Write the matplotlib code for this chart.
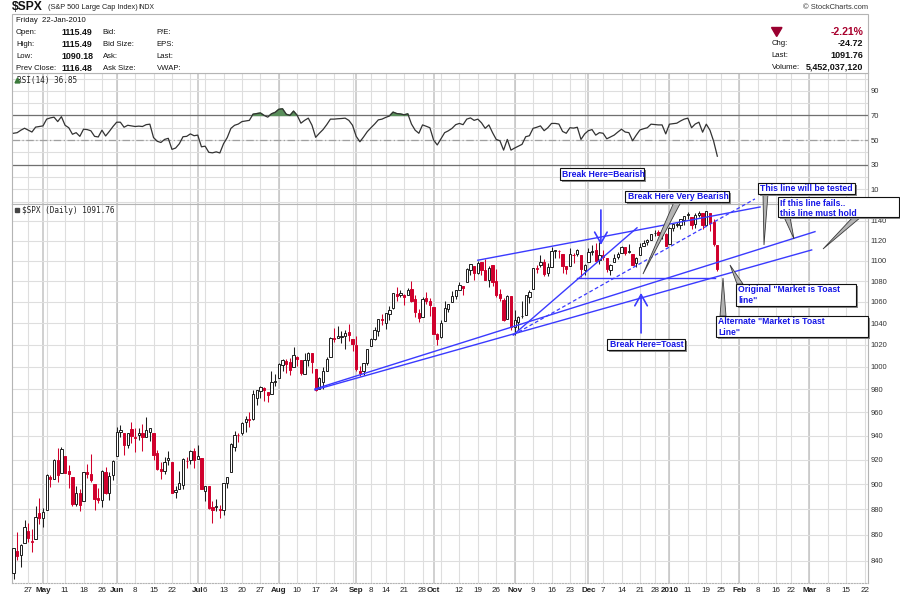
import numpy as np
import pandas as pd
import matplotlib
matplotlib.use("Agg")
import matplotlib.pyplot as plt
from matplotlib.patches import Rectangle, Polygon

# ---- data: S&P 500 daily, 21-Apr-2009 .. 22-Jan-2010 ----
first_day = "2009-04-21"
last_axis_day = "2010-03-26"
holidays = ["2009-05-25", "2009-07-03", "2009-09-07", "2009-11-26",
            "2009-12-25", "2010-01-01", "2010-01-18", "2010-02-15"]

opens = [831.3, 847.3, 844.6, 853.9, 862.8, 854.5, 856.9, 876.6, 872.7, 879.2,
         906.1, 903.8, 919.6, 909.0, 922.9, 910.5, 905.4, 884.2, 892.8, 886.1,
         909.7, 908.6, 900.4, 888.7, 887.0, 909.9, 892.9, 907.0, 923.3, 942.9,
         942.5, 932.5, 945.7, 938.1, 940.4, 942.7, 939.0, 943.4, 942.5, 925.6,
         911.9, 910.9, 920.0, 918.1, 893.5, 896.3, 899.5, 918.8, 919.9, 927.2,
         920.8, 921.2, 894.3, 898.6, 881.9, 881.3, 880.0, 879.6, 900.8, 910.2,
         930.2, 940.6, 942.1, 952.0, 953.4, 954.1, 972.2, 978.6, 981.5, 977.7,
         976.0, 986.8, 990.2, 1001.4, 1005.4, 1004.1, 999.8, 1008.9, 1005.8, 994.0,
         1005.9, 1012.2, 998.2, 980.6, 986.9, 996.4, 1009.1, 1026.6, 1026.6, 1027.4,
         1027.8, 1031.6, 1025.2, 1019.5, 996.1, 996.1, 1003.8, 1018.7, 1025.4, 1033.0,
         1043.9, 1040.2, 1049.0, 1054.0, 1067.9, 1066.6, 1067.1, 1066.4, 1072.7, 1062.6,
         1049.5, 1045.4, 1063.7, 1061.0, 1054.9, 1029.7, 1026.9, 1042.0, 1053.7, 1060.0,
         1065.3, 1071.6, 1075.0, 1078.7, 1090.4, 1094.7, 1088.2, 1098.6, 1090.4, 1081.0,
         1095.6, 1080.4, 1067.5, 1061.5, 1043.7, 1065.4, 1036.2, 1040.9, 1047.1, 1047.3,
         1065.0, 1072.3, 1091.9, 1096.0, 1098.3, 1087.6, 1094.1, 1109.2, 1109.4, 1106.4,
         1094.7, 1094.9, 1105.8, 1106.5, 1105.5, 1091.1, 1098.9, 1109.0, 1110.6, 1100.4,
         1105.5, 1103.0, 1091.1, 1098.7, 1104.0, 1107.8, 1114.1, 1108.6, 1106.4, 1097.9,
         1105.3, 1114.5, 1118.8, 1121.1, 1127.5, 1128.6, 1125.5, 1126.6, 1116.6, 1133.0,
         1135.7, 1136.3, 1140.5, 1146.0, 1143.8, 1137.3, 1145.7, 1147.7, 1136.0, 1148.0,
         1138.7, 1115.5]
highs = [850.1, 861.8, 852.9, 871.8, 868.8, 864.5, 882.1, 888.7, 880.5, 907.9,
         907.7, 920.3, 929.6, 930.2, 922.9, 915.6, 905.4, 898.4, 896.1, 910.0,
         916.4, 924.6, 900.4, 896.7, 911.8, 913.8, 909.5, 920.0, 947.8, 949.4,
         942.5, 942.5, 951.7, 946.3, 946.9, 949.8, 956.2, 946.3, 942.5, 928.0,
         918.4, 921.9, 927.1, 918.1, 898.7, 910.9, 921.4, 922.0, 928.0, 930.0,
         931.9, 921.2, 898.7, 898.6, 886.8, 887.9, 883.6, 901.1, 905.8, 933.9,
         944.0, 941.9, 951.6, 956.5, 959.8, 979.4, 979.8, 982.5, 982.4, 977.8,
         996.7, 993.2, 1003.6, 1007.1, 1006.6, 1008.0, 1018.0, 1010.1, 1005.8, 1012.8,
         1013.1, 1012.6, 998.2, 991.2, 999.6, 1008.9, 1027.6, 1035.8, 1037.8, 1032.5,
         1033.3, 1039.5, 1025.2, 1028.5, 1000.3, 1003.4, 1016.5, 1026.1, 1036.3, 1044.1,
         1048.2, 1049.7, 1056.0, 1068.8, 1074.8, 1071.5, 1067.3, 1073.8, 1080.2, 1066.3,
         1053.5, 1065.1, 1069.6, 1063.4, 1054.9, 1030.6, 1042.6, 1060.6, 1058.0, 1070.7,
         1071.5, 1079.5, 1075.3, 1093.2, 1096.6, 1094.7, 1100.2, 1098.6, 1101.4, 1095.2,
         1095.8, 1091.7, 1072.5, 1063.3, 1066.8, 1065.4, 1052.2, 1046.4, 1061.0, 1066.7,
         1071.5, 1093.2, 1096.1, 1105.4, 1101.9, 1097.8, 1113.7, 1110.3, 1111.1, 1106.4,
         1094.7, 1112.4, 1107.6, 1111.2, 1105.5, 1097.2, 1112.3, 1115.6, 1117.3, 1119.1,
         1110.7, 1103.0, 1097.0, 1106.3, 1108.5, 1114.8, 1114.1, 1116.2, 1106.4, 1103.7,
         1117.7, 1120.3, 1121.6, 1126.5, 1130.4, 1130.4, 1126.4, 1127.6, 1133.9, 1136.6,
         1139.2, 1142.5, 1145.4, 1149.7, 1143.8, 1148.4, 1150.4, 1147.8, 1150.5, 1148.0,
         1141.6, 1115.5]
lows = [826.8, 840.6, 835.6, 853.9, 854.7, 847.1, 856.9, 868.2, 866.1, 879.2,
        897.3, 903.8, 901.4, 909.0, 908.7, 896.5, 882.5, 882.5, 878.9, 886.1,
        905.2, 901.4, 879.6, 885.0, 881.5, 891.9, 887.6, 903.6, 923.3, 938.5,
        923.9, 929.3, 934.1, 926.4, 936.2, 927.1, 939.0, 935.7, 919.7, 911.6,
        903.8, 907.9, 915.8, 893.0, 888.9, 896.3, 896.3, 913.0, 916.2, 912.9,
        920.8, 896.4, 886.4, 879.9, 869.3, 878.4, 872.8, 875.3, 896.5, 910.2,
        927.4, 934.9, 940.9, 943.2, 947.8, 953.3, 965.9, 972.3, 969.4, 968.7,
        976.0, 982.8, 990.2, 996.7, 994.3, 992.5, 999.8, 1001.0, 992.4, 993.4,
        1000.8, 994.6, 978.5, 980.6, 980.6, 996.4, 1009.1, 1022.5, 1026.2, 1021.6,
        1016.2, 1023.1, 1014.6, 996.3, 992.0, 992.3, 1001.7, 1018.7, 1024.0, 1028.0,
        1038.4, 1035.0, 1043.4, 1052.9, 1061.2, 1064.3, 1057.5, 1066.4, 1060.4, 1045.9,
        1041.2, 1045.4, 1057.8, 1046.5, 1029.5, 1020.0, 1025.9, 1042.0, 1050.1, 1060.0,
        1063.0, 1071.6, 1066.7, 1078.7, 1086.4, 1081.5, 1086.5, 1086.2, 1080.8, 1074.3,
        1075.5, 1065.2, 1060.6, 1042.2, 1043.7, 1033.4, 1029.4, 1033.4, 1045.2, 1047.3,
        1059.3, 1072.3, 1087.8, 1093.8, 1084.7, 1085.3, 1094.1, 1102.2, 1102.7, 1088.4,
        1086.8, 1094.9, 1097.6, 1104.8, 1083.7, 1086.3, 1098.9, 1105.3, 1098.7, 1096.5,
        1100.8, 1088.6, 1085.9, 1098.7, 1101.3, 1107.8, 1105.4, 1108.0, 1095.9, 1093.9,
        1105.3, 1114.5, 1116.0, 1121.1, 1124.9, 1126.2, 1121.9, 1114.8, 1116.6, 1129.7,
        1133.9, 1131.3, 1136.2, 1142.0, 1131.8, 1133.2, 1143.8, 1131.4, 1135.8, 1129.3,
        1114.8, 1090.2]
closes = [850.1, 843.6, 851.9, 866.2, 857.5, 855.2, 873.6, 872.8, 877.5, 907.2,
          903.8, 919.5, 907.4, 929.2, 909.2, 908.4, 883.9, 893.1, 882.9, 909.7,
          908.1, 903.5, 888.3, 887.0, 910.3, 893.1, 906.8, 919.1, 942.9, 944.7,
          931.8, 942.5, 940.1, 939.1, 942.4, 939.2, 944.9, 946.2, 923.7, 912.0,
          910.7, 918.4, 921.2, 893.0, 895.1, 900.9, 920.3, 918.9, 927.2, 919.3,
          923.3, 896.4, 898.7, 881.0, 879.6, 882.7, 879.1, 901.1, 905.8, 932.7,
          940.7, 940.4, 951.1, 954.6, 954.1, 976.3, 979.3, 982.2, 979.6, 975.2,
          986.8, 987.5, 1002.6, 1005.7, 1002.7, 997.1, 1010.5, 1007.1, 994.4, 1005.8,
          1012.7, 1004.1, 979.7, 989.7, 996.5, 1007.4, 1026.1, 1025.6, 1028.0, 1028.1,
          1031.0, 1028.9, 1020.6, 998.0, 994.75, 1003.2, 1016.4, 1025.4, 1033.4, 1044.1,
          1042.7, 1049.3, 1052.6, 1068.8, 1065.5, 1068.3, 1064.7, 1071.7, 1060.9, 1050.8,
          1044.4, 1063.0, 1060.6, 1057.1, 1029.9, 1025.2, 1040.5, 1054.7, 1057.6, 1065.5,
          1071.5, 1076.2, 1073.2, 1092.0, 1096.6, 1087.7, 1097.9, 1091.1, 1081.4, 1092.9,
          1079.6, 1067.0, 1063.4, 1042.6, 1066.1, 1036.2, 1042.9, 1045.4, 1046.5, 1066.6,
          1069.3, 1093.1, 1093.0, 1098.5, 1087.2, 1093.5, 1109.3, 1110.3, 1109.8, 1094.9,
          1091.4, 1106.2, 1105.7, 1110.6, 1091.5, 1095.6, 1108.9, 1109.2, 1099.9, 1106.0,
          1103.3, 1091.9, 1096.0, 1102.4, 1106.4, 1114.1, 1107.9, 1109.2, 1096.1, 1102.5,
          1114.1, 1118.0, 1120.6, 1126.5, 1127.8, 1126.2, 1126.4, 1115.1, 1133.0, 1136.5,
          1137.1, 1141.7, 1145.0, 1147.0, 1136.2, 1145.7, 1148.5, 1136.0, 1150.2, 1138.0,
          1116.5, 1091.8]
rsi14 = [55.5, 56, 58, 59.6, 58, 56.5, 60.5, 61, 61.5, 67,
         68, 68.6, 65, 69, 62, 60, 54.7, 56, 53, 58.8,
         58.5, 57.5, 53, 52.5, 58, 53.3, 57, 61, 64.5, 64.5,
         60.4, 62, 61.5, 61, 61.3, 61, 62.5, 62.9, 52, 49,
         48, 50.5, 51.4, 42.4, 43.5, 47, 52.7, 53, 55, 53.5,
         54, 44.5, 45, 40, 39.6, 40.4, 39.5, 47, 52, 59.5,
         62, 63, 65, 65.5, 66, 71, 71.5, 72, 70, 68.6,
         71.3, 72.5, 75, 75.4, 71, 70, 73.5, 70, 63.7, 66,
         67.8, 62, 52.2, 55.5, 58.5, 62.5, 67, 67, 67.3, 67.5,
         67.8, 66, 62, 53, 48.6, 52.5, 56.8, 60, 63, 66.4,
         67, 68.4, 69.5, 72.7, 71.5, 71.2, 70.5, 71.3, 63, 58,
         55.5, 62.3, 61.2, 60, 50, 46, 51, 56, 57.5, 59.5,
         62.5, 63.5, 62.5, 67, 68, 66, 67, 64, 59.5, 62.3,
         56, 50.5, 49.4, 41.8, 50.5, 41.8, 43.5, 45, 46.5, 52.7,
         53.5, 59.5, 60.4, 61.5, 57.6, 60, 63.5, 63.5, 63, 57,
         55.5, 60, 59.7, 60.4, 50.5, 55, 57.6, 58.5, 54, 56,
         55.5, 51, 52.5, 54, 56.5, 58.8, 56.5, 56, 49.4, 54,
         58.2, 59.2, 60, 62.9, 62.6, 62.3, 62.3, 55, 62.9, 63.3,
         63.7, 65.5, 67, 67.8, 60, 63, 64.5, 56.4, 62.9, 58,
         49, 36.85]

price_ticks = [840, 860, 880, 900, 920, 940, 960, 980, 1000, 1020,
               1040, 1060, 1080, 1100, 1120, 1140]
rsi_ticks = [10, 30, 50, 70, 90]

# hand drawn trend lines: (day index, price) end points
trend_lines = [((126.0, 1100.5), (202.6, 1154.4)),
               ((135.6, 1029.0), (169.2, 1133.0)),
               ((81.8, 980.3), (217.5, 1129.1)),
               ((81.8, 979.5), (216.6, 1110.7)),
               ((153.0, 1082.8), (190.3, 1082.8))]
dashed_line = ((135.6, 1029.0), (201.2, 1162.8))
arrows = [((159.4, 1151.3), (159.4, 1115.7)),
          ((170.3, 1030.9), (170.3, 1068.6))]

# callout boxes in picture pixels: x0, y0, x1, y1, text
callouts = [(560, 168, 644, 180, "Break Here=Bearish"),
            (625, 191, 729, 202, "Break Here Very Bearish"),
            (758, 183, 855, 194, "This line will be tested"),
            (778, 197, 899, 217, "If this line fails..\nthis line must hold"),
            (736, 284, 856, 306, "Original \"Market is Toast\nline\""),
            (716, 316, 868, 337, "Alternate \"Market is Toast\nLine\""),
            (607, 339, 685, 350, "Break Here=Toast")]
pointers = [((674, 202), (681, 202), (643, 274)),
            ((763, 194), (768, 194), (764, 245)),
            ((784, 217), (790, 217), (794, 239)),
            ((853, 217), (861, 217), (823, 249)),
            ((737, 284), (743, 284), (730, 265)),
            ((720, 316), (726, 316), (723, 278))]

W, H = 900, 596
RED = "#d0002c"
BLK = "#1e1e1e"
BLUE = "#3a3aff"
TXTBLUE = "#1414e6"
GRID = "#dedede"
SANS = "Liberation Sans"


def rect(x0, y0, x1, y1):
    return [x0 / W, 1 - y1 / H, (x1 - x0) / W, (y1 - y0) / H]


# trading-day calendar for the axis
days = pd.bdate_range(first_day, last_axis_day)
days = days[~days.isin(pd.to_datetime(holidays))]
pos = pd.Series(np.arange(len(days)), index=days)
week_first = pos.groupby(days.to_period("W")).min()
month_first = pos.groupby(days.to_period("M")).min()
week_first = week_first[week_first > 0]
month_first = month_first[month_first > 0]

tick_pos, tick_lab, tick_bold = [], [], []
for p in month_first.values:
    d = days[p]
    tick_pos.append(p)
    tick_lab.append(str(d.year) if d.month == 1 else d.strftime("%b"))
    tick_bold.append(True)
for p in week_first.values:
    d = days[p]
    # week labels too close to a month label are dropped
    crowded = any(-2 <= (d - days[m]).days < 5 for m in month_first.values)
    if not crowded:
        tick_pos.append(p)
        tick_lab.append(str(d.day))
        tick_bold.append(False)

n = len(closes)
x = np.arange(n)
o = np.array(opens)
hi = np.array(highs)
lo = np.array(lows)
c = np.array(closes)
prev = np.concatenate([[o[0]], c[:-1]])
edge = np.where(c >= prev, BLK, RED)
hollow = c >= o
face = [("white" if h else e) for h, e in zip(hollow, edge)]
body_lo = np.minimum(o, c)
body_h = np.maximum(np.abs(c - o), 0.4)

fig = plt.figure(figsize=(W / 100, H / 100), dpi=100)
fig.patch.set_facecolor("white")

x_left = (12 - 13.5) / 3.685
x_right = (868 - 13.5) / 3.685

ax_r = fig.add_axes(rect(12, 73, 868, 204))
ax_p = fig.add_axes(rect(12, 204, 868, 583))

for ax in (ax_r, ax_p):
    ax.set_xlim(x_left, x_right)
    for s in ax.spines.values():
        s.set_color("#b4b4b4")
        s.set_linewidth(0.8)
    for p in week_first.values:
        ax.axvline(p, color=GRID, lw=0.8, zorder=0)
    for p in month_first.values:
        ax.axvline(p, color="#c4c4c4", lw=1.1, zorder=0)
    ax.yaxis.tick_right()
    ax.tick_params(axis="y", length=0, pad=2, labelsize=5.5, labelcolor="#333333")

# RSI panel
ax_r.set_ylim(-2.0, 104.5)
ax_r.set_xticks([])
ax_r.set_yticks(rsi_ticks)
ax_r.set_yticklabels([str(t) for t in rsi_ticks], fontfamily=SANS)
for lv in range(0, 101, 10):
    ax_r.axhline(lv, color=GRID, lw=0.8, zorder=0)
ax_r.axhline(70, color="#707070", lw=0.9, zorder=1)
ax_r.axhline(30, color="#707070", lw=0.9, zorder=1)
ax_r.axhline(50, color="#a0a0a0", lw=0.9, ls=(0, (6, 2, 1, 2)), zorder=1)
r = np.array(rsi14)
ax_r.fill_between(x, r, 70, where=r > 70, interpolate=True, color="#5a8f5b",
                  zorder=2)
ax_r.plot(x, r, color="#333333", lw=0.9, zorder=3)
ax_r.text(0.006, 0.945, "RSI(14) 36.85", transform=ax_r.transAxes,
          fontfamily="DejaVu Sans Mono", fontsize=5.6, va="center",
          color="#222222")
ax_r.plot([0.9], [98.8], marker="^", ms=3.5, color="#3a7a3a", zorder=4)

# price panel
ax_p.set_yscale("log")
ax_p.set_ylim(823.5, 1157.5)
ax_p.set_yticks(price_ticks)
ax_p.set_yticklabels([str(t) for t in price_ticks], fontfamily=SANS)
ax_p.yaxis.set_minor_locator(matplotlib.ticker.NullLocator())
for t in price_ticks:
    ax_p.axhline(t, color=GRID, lw=0.8, zorder=0)
ax_p.spines["bottom"].set_linestyle((0, (1, 1.5)))
ax_p.set_xticks(tick_pos)
ax_p.set_xticklabels(tick_lab, fontfamily=SANS)
ax_p.tick_params(axis="x", length=0, pad=3, labelsize=5.8, labelcolor="#222222")
for lab, b in zip(ax_p.get_xticklabels(), tick_bold):
    if b:
        lab.set_fontweight("bold")

ax_p.vlines(x, lo, hi, colors=edge, lw=0.75, zorder=3)
ax_p.bar(x, body_h, bottom=body_lo, width=0.62, color=face, edgecolor=edge,
         lw=0.7, zorder=4)
ax_p.text(0.012, 0.982, "$SPX (Daily) 1091.76", transform=ax_p.transAxes,
          fontfamily="DejaVu Sans Mono", fontsize=5.6, va="center",
          color="#222222")
ax_p.plot([1.0], [1151.5], marker="s", ms=2.2, color="#444444", zorder=6)

for (x0, y0), (x1, y1) in trend_lines:
    ax_p.plot([x0, x1], [y0, y1], color=BLUE, lw=1.0, zorder=5, clip_on=False)
(dx0, dy0), (dx1, dy1) = dashed_line
ax_p.plot([dx0, dx1], [dy0, dy1], color=BLUE, lw=0.9, ls=(0, (3, 2)),
          zorder=5, clip_on=False)
for tail, tip in arrows:
    ax_p.annotate("", xy=tip, xytext=tail,
                  arrowprops=dict(arrowstyle="->,head_length=0.8,head_width=0.45",
                                  color=BLUE, lw=1.2, shrinkA=0, shrinkB=0),
                  zorder=6, annotation_clip=False)

# overlay in picture pixels for header and callouts
ov = fig.add_axes([0, 0, 1, 1], zorder=10)
ov.set_xlim(0, W)
ov.set_ylim(H, 0)
ov.axis("off")

ov.text(11.5, 7, "$SPX", fontfamily=SANS, fontweight="bold", fontsize=8.7,
        va="center", color="#111111")
ov.text(48, 7.5, "(S&P 500 Large Cap Index)", fontfamily=SANS, fontsize=5.3,
        va="center", color="#222222")
ov.text(138, 7.8, "INDX", fontfamily=SANS, fontsize=4.9, va="center",
        color="#222222")
ov.text(868, 7.8, "\u00a9 StockCharts.com", fontfamily=SANS, fontsize=5.4,
        va="center", ha="right", color="#333333")
ov.add_patch(Rectangle((12, 14), 856, 59, facecolor="white",
                       edgecolor="#b4b4b4", lw=0.8))

rows = [("Open:", "1115.49", "Bid:", "P/E:"),
        ("High:", "1115.49", "Bid Size:", "EPS:"),
        ("Low:", "1090.18", "Ask:", "Last:"),
        ("Prev Close:", "1116.48", "Ask Size:", "VWAP:")]
ov.text(16, 20.7, "Friday  22-Jan-2010", fontfamily=SANS, fontsize=5.6,
        va="center", color="#111111")
for i, (a, b, cc, d) in enumerate(rows):
    yy = 32.7 + 12 * i
    ov.text(16, yy, a, fontfamily=SANS, fontsize=5.6, va="center", color="#111111")
    ov.text(61.7, yy, b, fontfamily=SANS, fontsize=6.4, fontweight="bold",
            va="center", color="#111111")
    ov.text(102.7, yy, cc, fontfamily=SANS, fontsize=5.6, va="center", color="#111111")
    ov.text(156.7, yy, d, fontfamily=SANS, fontsize=5.6, va="center", color="#111111")

ov.add_patch(Polygon([(771.5, 27.5), (782, 27.5), (776.7, 36.5)],
                     closed=True, color="#9a0030"))
ov.text(863.5, 32.3, "-2.21%", fontfamily=SANS, fontsize=7.6, fontweight="bold",
        ha="right", va="center", color="#a8002d")
right_rows = [("Chg:", "-24.72"), ("Last:", "1091.76"), ("Volume:", "5,452,037,120")]
for i, (a, b) in enumerate(right_rows):
    yy = 43.8 + 11.7 * i
    ov.text(771.7, yy, a, fontfamily=SANS, fontsize=5.6, va="center", color="#111111")
    ov.text(863.5, yy, b, fontfamily=SANS, fontsize=6.5, fontweight="bold",
            ha="right", va="center", color="#111111")

for (bx0, by0), (bx1, by1), (tx, ty) in pointers:
    ov.add_patch(Polygon([(bx0, by0), (bx1, by1), (tx, ty)], closed=True,
                         facecolor="#b4b4b4", edgecolor="#3a3a3a", lw=0.6))

for x0, y0, x1, y1, txt in callouts:
    ov.add_patch(Rectangle((x0 + 2, y0 + 2), x1 - x0, y1 - y0,
                           facecolor="#8a8a8a", edgecolor="none"))
    ov.add_patch(Rectangle((x0, y0), x1 - x0, y1 - y0, facecolor="white",
                           edgecolor="#111111", lw=0.8))
    nl = txt.count("\n") + 1
    if nl == 1:
        ov.text(x0 + 2.5, (y0 + y1) / 2 + 0.3, txt, fontfamily=SANS,
                fontweight="bold", fontsize=6.2, color=TXTBLUE, va="center")
    else:
        ov.text(x0 + 2.5, y0 + 1.5, txt, fontfamily=SANS, fontweight="bold",
                fontsize=6.2, color=TXTBLUE, va="top", linespacing=1.15)

fig.savefig("out.png", dpi=100)
